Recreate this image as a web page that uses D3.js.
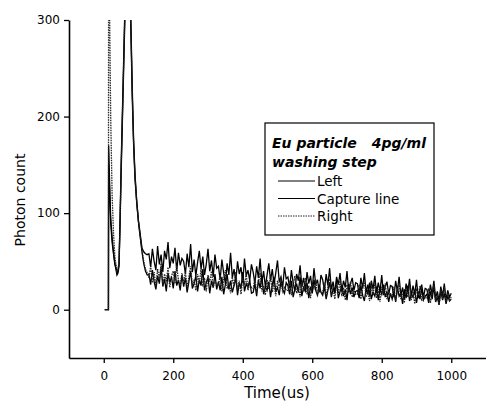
<!DOCTYPE html>
<html>
<head>
<meta charset="utf-8">
<script src="https://cdn.jsdelivr.net/npm/d3@7"></script>
<style>
  body { margin: 0; background: #fff; }
  text { font-family: "DejaVu Sans", sans-serif; fill: #000; }
</style>
</head>
<body>
<div id="chart"></div>
<script>
// sample times (us): pulse part hand read, tail sampled every 5 us
var pulseTimes = [3, 8, 12, 13.5, 14, 15, 17, 20, 24, 28, 32, 36, 38, 41, 44, 47, 50, 54, 58, 62, 66, 70, 74, 78, 82, 86, 90, 95, 100, 105, 110, 115, 120, 125];
var tailTimes = d3.range(130, 1001, 5);
var times = pulseTimes.concat(tailTimes);

var leftPulse = [0, 0, 0, 0, 170, 160, 130, 95, 75, 60, 48, 40, 36, 38, 45, 90, 140, 200, 260, 320, 360, 380, 340, 290, 220, 170, 135, 110, 90, 75, 60, 48, 40, 36];
var capturePulse = [0, 0, 0, 0, 150, 145, 120, 90, 70, 58, 47, 42, 38, 40, 48, 95, 150, 210, 270, 330, 370, 390, 350, 300, 230, 175, 140, 112, 92, 78, 64, 60, 58, 57];
var rightPulse = [0, 0, 0, 0, 420, 400, 300, 200, 120, 80, 55, 45, 40, 42, 50, 92, 145, 205, 265, 325, 365, 385, 345, 295, 225, 172, 138, 111, 91, 76, 62, 50, 42, 38];

var leftTail = [
  37, 26, 41, 29, 21, 35, 27, 44, 24, 32, 19, 38, 28, 34, 22, 40, 25, 31, 20, 36,
  24, 33, 18, 29, 40, 22, 27, 35, 19, 31, 25, 42, 20, 28, 34, 17, 30, 23, 37, 21,
  29, 20, 34, 16, 26, 37, 21, 30, 18, 25, 33, 15, 28, 22, 39, 19, 27, 23, 31, 17,
  18, 27, 14, 31, 22, 35, 16, 24, 20, 29, 13, 26, 34, 19, 23, 15, 30, 21, 17, 28,
  25, 16, 30, 13, 21, 27, 18, 34, 14, 23, 19, 28, 12, 24, 17, 31, 20, 15, 26, 18,
  15, 24, 11, 20, 28, 13, 22, 17, 30, 12, 19, 25, 14, 21, 10, 27, 16, 23, 13, 19,
  20, 12, 25, 15, 9, 22, 17, 28, 11, 18, 14, 24, 10, 21, 16, 26, 13, 19, 8, 17,
  11, 19, 8, 23, 14, 17, 6, 21, 12, 25, 9, 16, 13, 20, 7, 18, 11, 22, 10, 14,
  16, 7, 19, 11, 24, 8, 13, 5, 20, 10, 17, 6, 14, 9, 11];
var captureTail = [
  58, 44, 63, 50, 41, 66, 47, 57, 39, 61, 52, 70, 43, 55, 48, 64, 40, 59, 46, 53,
  50, 37, 58, 44, 68, 39, 52, 35, 49, 61, 42, 55, 36, 47, 63, 40, 51, 34, 57, 43,
  45, 31, 52, 38, 27, 48, 36, 59, 33, 42, 29, 50, 37, 44, 28, 53, 35, 41, 30, 47,
  39, 27, 45, 33, 53, 28, 40, 24, 36, 48, 30, 42, 26, 38, 51, 29, 34, 23, 44, 32,
  34, 22, 41, 28, 19, 37, 30, 46, 24, 33, 20, 39, 27, 35, 21, 43, 26, 31, 18, 36,
  31, 20, 37, 25, 43, 21, 29, 17, 34, 26, 38, 19, 30, 23, 40, 18, 27, 33, 20, 28,
  27, 16, 33, 22, 38, 18, 26, 14, 30, 21, 35, 17, 28, 19, 36, 15, 24, 29, 16, 25,
  24, 13, 30, 19, 34, 15, 23, 11, 27, 18, 32, 14, 25, 16, 31, 12, 21, 26, 13, 22,
  21, 11, 26, 16, 30, 12, 19, 9, 24, 14, 27, 10, 20, 13, 17];
var rightTail = [
  33, 45, 28, 39, 24, 42, 31, 48, 26, 37, 29, 44, 23, 35, 40, 27, 46, 30, 25, 38,
  28, 39, 22, 34, 45, 25, 31, 20, 37, 27, 42, 24, 33, 19, 36, 29, 40, 23, 30, 26,
  25, 36, 19, 31, 41, 22, 28, 17, 34, 24, 39, 21, 30, 16, 33, 26, 37, 20, 27, 23,
  22, 33, 17, 28, 38, 19, 25, 15, 31, 21, 36, 18, 27, 14, 30, 23, 34, 17, 24, 20,
  20, 30, 15, 26, 35, 17, 23, 13, 29, 19, 33, 16, 25, 12, 28, 21, 31, 15, 22, 18,
  18, 28, 13, 24, 32, 15, 21, 11, 27, 17, 30, 14, 23, 10, 26, 19, 29, 13, 20, 16,
  16, 26, 11, 22, 30, 13, 19, 9, 25, 15, 28, 12, 21, 8, 24, 17, 27, 11, 18, 14,
  14, 24, 9, 20, 28, 11, 17, 7, 23, 13, 26, 10, 19, 6, 22, 15, 25, 9, 16, 12,
  12, 22, 7, 18, 26, 9, 15, 5, 21, 11, 24, 8, 17, 10, 13];

var seriesNames = ["Left", "Capture line", "Right"];
var xMajorTicks = [0, 200, 400, 600, 800, 1000];
var xMinorTicks = [-100, 100, 300, 500, 700, 900, 1100];
var yMajorTicks = [0, 100, 200, 300];
var yMinorTicks = [-50, 50, 150, 250];

var W = 486, H = 410;

var svg = d3.select("#chart")
    .append("svg")
    .attr("width", W)
    .attr("height", H);

var x = d3.scaleLinear().domain([-100, 1100]).range([69, 486]);
var y = d3.scaleLinear().domain([-50, 300]).range([358, 20]);

// build the three series
var values = [leftPulse.concat(leftTail), capturePulse.concat(captureTail), rightPulse.concat(rightTail)];
var dataReady = seriesNames.map(function (name, i) {
    return {
        name: name,
        values: times.map(function (t, j) { return { t: t, v: values[i][j] }; })
    };
});

svg.append("clipPath").attr("id", "plotclip")
    .append("rect")
    .attr("x", x(-100)).attr("y", y(300))
    .attr("width", x(1100) - x(-100)).attr("height", y(-50) - y(300));

var line = d3.line()
    .x(function (d) { return x(d.t); })
    .y(function (d) { return y(d.v); });

var lineStyle = {
    "Left": { w: 1.3, dash: null, color: "#000" },
    "Capture line": { w: 1.3, dash: null, color: "#000" },
    "Right": { w: 1.3, dash: "1.5,1", color: "#222" }
};

svg.append("g")
    .attr("clip-path", "url(#plotclip)")
    .selectAll("path")
    .data(dataReady)
    .enter()
    .append("path")
    .attr("d", function (d) { return line(d.values); })
    .attr("fill", "none")
    .attr("stroke", function (d) { return lineStyle[d.name].color; })
    .attr("stroke-width", function (d) { return lineStyle[d.name].w; })
    .attr("stroke-dasharray", function (d) { return lineStyle[d.name].dash; });

// X axis
var xAxis = svg.append("g")
    .attr("transform", "translate(0," + y(-50) + ")");
xAxis.call(d3.axisBottom(x).tickValues(xMinorTicks).tickSize(3).tickSizeOuter(0).tickFormat(""));
xAxis.call(d3.axisBottom(x).tickValues(xMajorTicks).tickSize(5).tickSizeOuter(0).tickPadding(8).tickFormat(d3.format("d")));

// Y axis
var yAxis = svg.append("g")
    .attr("transform", "translate(" + x(-100) + ",0)");
yAxis.call(d3.axisLeft(y).tickValues(yMinorTicks).tickSize(3).tickSizeOuter(0).tickFormat(""));
yAxis.call(d3.axisLeft(y).tickValues(yMajorTicks).tickSize(5).tickSizeOuter(0).tickPadding(4));

svg.selectAll(".domain").attr("stroke-width", 1.6);
svg.selectAll(".tick line").attr("stroke-width", 1.3);
svg.selectAll(".tick text")
    .style("font-size", "12px")
    .style("font-family", "'DejaVu Sans', sans-serif");

// axis titles
svg.append("text")
    .attr("x", 277)
    .attr("y", 398)
    .attr("text-anchor", "middle")
    .style("font-size", "15px")
    .text("Time(us)");

svg.append("text")
    .attr("transform", "translate(25,200) rotate(-90)")
    .attr("text-anchor", "middle")
    .style("font-size", "14px")
    .text("Photon count");

// legend
var lg = svg.append("g");
lg.append("rect")
    .attr("x", 265).attr("y", 123)
    .attr("width", 169).attr("height", 112)
    .attr("fill", "#fff")
    .attr("stroke", "#000")
    .attr("stroke-width", 1.2);

lg.append("text").attr("x", 272).attr("y", 148)
    .style("font-size", "14px").style("font-weight", "bold").style("font-style", "italic")
    .text("Eu particle");
lg.append("text").attr("x", 426).attr("y", 148).attr("text-anchor", "end")
    .style("font-size", "14px").style("font-weight", "bold").style("font-style", "italic")
    .text("4pg/ml");
lg.append("text").attr("x", 272).attr("y", 167)
    .style("font-size", "14px").style("font-weight", "bold").style("font-style", "italic")
    .text("washing step");

var rows = lg.selectAll(".row")
    .data(dataReady)
    .enter()
    .append("g")
    .attr("class", "row")
    .attr("transform", function (d, i) { return "translate(0," + (181 + i * 17.5) + ")"; });
rows.append("line")
    .attr("x1", 278).attr("x2", 315)
    .attr("stroke", function (d) { return lineStyle[d.name].color; })
    .attr("stroke-width", 1)
    .attr("stroke-dasharray", function (d) { return lineStyle[d.name].dash; });
rows.append("text")
    .attr("x", 317)
    .attr("y", 5)
    .style("font-size", "13.5px")
    .text(function (d) { return d.name; });
</script>
</body>
</html>
